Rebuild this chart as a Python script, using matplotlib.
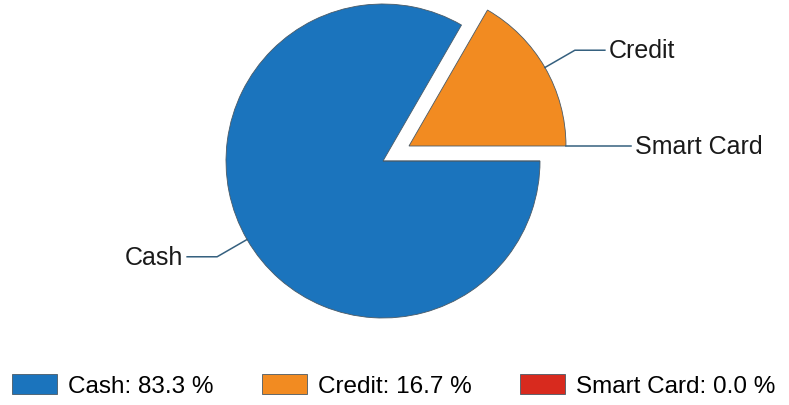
import numpy as np
import matplotlib
matplotlib.use("Agg")
import matplotlib.pyplot as plt

# data
categories = ["Cash", "Credit", "Smart Card"]
counts = [5, 1, 0]
colors = ["#1b74bd", "#f28b21", "#d82a1e"]
explode_px = [0, 30, 0]

plt.rcParams['font.family'] = ['Liberation Sans', 'DejaVu Sans']

fig = plt.figure(figsize=(7.89, 4.06), dpi=100)
ax = fig.add_axes([0, 0, 1, 1])

# pie geometry in pixel units (y up)
cx, cy, r = 383, 244, 157
total = sum(counts)
wedges, _ = ax.pie(counts, colors=colors, startangle=0, counterclock=False,
                   center=(cx, cy), radius=r, explode=explode_px,
                   wedgeprops=dict(edgecolor="#4a5a66", linewidth=0.6),
                   frame=True)
ax.set_xlim(0, 789)
ax.set_ylim(0, 406)
ax.set_aspect('equal')
ax.axis('off')

# leader lines + labels
line_col = "#35607f"
for i, (w, name) in enumerate(zip(wedges, categories)):
    theta = np.deg2rad((w.theta1 + w.theta2) / 2)
    # empty slice sits on the edge of the previous (exploded) one
    ox, oy = wedges[i - 1].center if counts[i] == 0 else w.center
    p1 = (ox + r * np.cos(theta), oy + r * np.sin(theta))
    p2 = (ox + 1.22 * r * np.cos(theta), oy + 1.22 * r * np.sin(theta))
    side = 1 if np.cos(theta) >= -1e-9 else -1
    p3 = (p2[0] + side * 30, p2[1])
    ax.plot([p1[0], p2[0], p3[0]], [p1[1], p2[1], p3[1]], color=line_col, lw=1.1)
    ax.text(p3[0] + side * 4, p3[1], name, ha='left' if side > 0 else 'right',
            va='center', fontsize=18, color="#1a1a1a")

# legend
labels = [f"{n}: {c / total * 100:.1f} %" for n, c in zip(categories, counts)]
fig.legend(wedges, labels, loc='lower left', bbox_to_anchor=(12 / 789, 8 / 406), ncol=3,
           frameon=False, fontsize=17.5, handlelength=1.85, handleheight=0.9,
           handletextpad=0.45, columnspacing=2.0, borderpad=0, borderaxespad=0)

fig.savefig("out.png", dpi=100)
